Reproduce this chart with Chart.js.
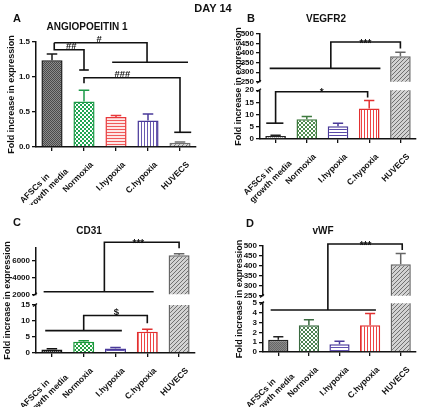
<!DOCTYPE html>
<html><head><meta charset="utf-8">
<script src="https://cdn.jsdelivr.net/npm/chart.js@4.4.1/dist/chart.umd.min.js"></script>
<style>
html,body{margin:0;padding:0;background:#fff;}
#root{position:relative;width:422px;height:407px;overflow:hidden;background:#fff;}
.pn{position:absolute;}
.pn canvas{display:block;}
#day{position:absolute;left:2px;width:422px;top:2px;text-align:center;font:bold 11px 'Liberation Sans',Arial,sans-serif;color:#111;}
</style></head><body>
<div id="root">
<div class="pn" style="left:0;top:0"><canvas id="cA" width="211" height="205"></canvas></div>
<div class="pn" style="left:211px;top:0"><canvas id="cB" width="211" height="205"></canvas></div>
<div class="pn" style="left:0;top:203px"><canvas id="cC" width="211" height="204"></canvas></div>
<div class="pn" style="left:211px;top:203px"><canvas id="cD" width="211" height="204"></canvas></div>
<div id="day">DAY 14</div>
</div>
<script>
// ---------- data ----------
const categories = [['AFSCs in       ','growth media'],'Normoxia','I.hypoxia','C.hypoxia','HUVECS'];
const yTitle = 'Fold increase in expression';

const angMean   = [1.24, 0.65, 0.43, 0.38, 0.06];
const angErrTop = [1.33, 0.81, 0.45, 0.47, 0.07];
const angTicks  = [0, 0.5, 1.0, 1.5];

const vegMean    = [1.2, 8.1, 5.2, 12.5, 384];
const vegErrTop  = [1.5, 9.2, 6.5, 15.8, 404];
const vegTicksLow = [0, 5, 10, 15, 20];
const vegTicksUp  = [250, 300, 350, 400, 450, 500];

const cdMean    = [1.1, 3.5, 1.4, 6.6, 6650];
const cdErrTop  = [1.3, 3.8, 1.7, 7.4, 6820];
const cdTicksLow = [0, 5, 10, 15];
const cdTicksUp  = [2000, 4000, 6000];

const vwfMean    = [1.25, 2.75, 0.8, 2.75, 408];
const vwfErrTop  = [1.55, 3.3, 1.1, 3.95, 463];
const vwfTicksLow = [0, 1, 2, 3, 4, 5];
const vwfTicksUp  = [250, 300, 350, 400, 450, 500];

// significance brackets: polylines of [category index, value, axis]
const angBrackets = [
  [[0.07,1.49,'l'],[2.97,1.49,'l'],[2.97,1.21,'l']],
  [[1.88,1.21,'l'],[4.25,1.21,'l']],
  [[0.07,1.49,'l'],[0.07,1.39,'l'],[1.0,1.39,'l'],[1.0,1.10,'l']],
  [[0.85,1.10,'l'],[1.15,1.10,'l']],
  [[1.0,0.91,'l'],[1.0,0.99,'l'],[4.0,0.99,'l'],[4.0,0.21,'l']],
  [[3.82,0.21,'l'],[4.35,0.21,'l']]
];
const angMarks = [['#',1.47,1.49,'l'],['##',0.6,1.39,'l'],['###',2.2,0.99,'l']];

const vegBrackets = [
  [[1.77,320,'u'],[1.77,458,'u'],[4.0,458,'u'],[4.0,424,'u']],
  [[-0.19,320,'u'],[3.36,320,'u']],
  [[0,6.5,'l'],[0,19.4,'l'],[2.95,19.4,'l'],[2.95,17,'l']],
  [[-0.3,6.5,'l'],[0.25,6.5,'l']]
];
const vegMarks = [['***',2.88,458,'u'],['*',1.48,19.4,'l']];

const cdBrackets = [
  [[1.65,2300,'u'],[1.65,8190,'u'],[4.0,8190,'u'],[4.0,7480,'u']],
  [[-0.26,2300,'u'],[3.2,2300,'u']],
  [[1.0,7.0,'l'],[1.0,11.7,'l'],[3.0,11.7,'l'],[3.0,9.3,'l']],
  [[-0.21,7.0,'l'],[2.2,7.0,'l']]
];
const cdMarks = [['***',2.72,8190,'u'],['$',2.03,11.7,'l']];

const vwfBrackets = [
  [[1.62,4.3,'l'],[1.62,510,'u'],[4.05,510,'u'],[4.05,480,'u']],
  [[-0.25,4.3,'l'],[3.19,4.3,'l']]
];
const vwfMarks = [['***',2.85,510,'u']];

// ---------- styling ----------
const FAM = "'Liberation Sans', Arial, sans-serif";
Chart.defaults.font.family = FAM;

function makePattern(ctx, f) {
  const [type, fg, bg, cell] = f;
  const k = cell || 1;
  const s = (type === 'checker' || type === 'diag') ? 2 * k : 3;
  const c = document.createElement('canvas');
  c.width = s; c.height = s;
  const g = c.getContext('2d');
  g.fillStyle = bg; g.fillRect(0, 0, s, s);
  g.fillStyle = fg;
  if (type === 'checker') { g.fillRect(0, 0, k, k); g.fillRect(k, k, k, k); }
  else if (type === 'hstripe') { g.fillRect(0, 0, s, 1); }
  else if (type === 'vstripe') { g.fillRect(0, 0, 1, s); }
  else if (type === 'diag') { for (let i = 0; i < s; i++) g.fillRect(i, s - 1 - i, 1, 1); }
  else { g.fillRect(0, 0, s, s); }
  return ctx.createPattern(c, 'repeat');
}

function makeChart(id, spec) {
  const canvas = document.getElementById(id);
  const ctx = canvas.getContext('2d');
  const fills = spec.fills.map(f => makePattern(ctx, f));
  const stacked = !!spec.up;
  const tickFont = {family: FAM, size: 8, weight: 'bold'};
  const yAxis = (min, max, ticks, weight, sw) => {
    const a = {
      type: 'linear', position: 'left', min: min, max: max, weight: weight,
      afterBuildTicks: s => { s.ticks = ticks.map(v => ({value: v})); },
      afterFit: s => { s.width = spec.yW; },
      ticks: {color: '#111', font: tickFont, padding: 2, autoSkip: false, callback: spec.fmt},
      grid: {drawOnChartArea: false, tickLength: 4, color: '#111', lineWidth: 1.3},
      border: {color: '#111', width: 1.5}
    };
    if (stacked) { a.stack = 's'; a.stackWeight = sw; }
    return a;
  };
  const scales = {
    x: {
      type: 'category', offset: true,
      grid: {offset: false, drawOnChartArea: false, tickLength: 4, color: '#111', lineWidth: 1.3},
      border: {color: '#111', width: 1.5},
      ticks: {autoSkip: false, maxRotation: 45, minRotation: 45, color: '#111', padding: 9, labelOffset: 8,
              font: {family: FAM, size: 8.5, weight: 'bold', lineHeight: 1.15}},
      afterFit: s => { s.height = spec.xH; }
    }
  };
  const ds = [];
  const base = {
    data: spec.mean, backgroundColor: fills, borderColor: spec.border, borderWidth: 1.5,
    borderSkipped: 'start', grouped: false, barPercentage: 0.66, categoryPercentage: 1, clip: 0
  };
  if (stacked) {
    scales.yUp = yAxis(spec.up.min, spec.up.max, spec.up.ticks, 2, spec.up.w);
    scales.yGap = {type: 'linear', position: 'left', stack: 's', stackWeight: spec.gapW, weight: 1,
      ticks: {display: false}, grid: {display: false}, border: {display: false},
      afterFit: s => { s.width = spec.yW; }};
    scales.yLow = yAxis(spec.low.min, spec.low.max, spec.low.ticks, 0, spec.low.w);
    ds.push(Object.assign({}, base, {yAxisID: 'yLow'}));
    ds.push(Object.assign({}, base, {yAxisID: 'yUp'}));
  } else {
    scales.yLow = yAxis(spec.low.min, spec.low.max, spec.low.ticks, 0, 1);
    ds.push(Object.assign({}, base, {yAxisID: 'yLow'}));
  }

  const decor = {
    id: 'decor_' + id,
    afterDatasetsDraw(chart) {
      const c = chart.ctx;
      const xs = chart.scales.x;
      const ax = k => (k === 'u' ? chart.scales.yUp : chart.scales.yLow);
      const meta = chart.getDatasetMeta(0);
      c.save();
      // error bars
      spec.mean.forEach((m, i) => {
        const sc = (stacked && m > spec.low.max) ? chart.scales.yUp : chart.scales.yLow;
        const x = xs.getPixelForValue(i);
        const w = meta.data[i].width;
        const y1 = sc.getPixelForValue(m), y2 = sc.getPixelForValue(spec.err[i]);
        c.strokeStyle = spec.border[i]; c.lineWidth = 1.5;
        c.beginPath();
        c.moveTo(x, y1); c.lineTo(x, y2);
        c.moveTo(x - w * 0.25, y2); c.lineTo(x + w * 0.25, y2);
        c.stroke();
      });
      // brackets
      c.strokeStyle = '#111'; c.lineWidth = 1.6; c.lineJoin = 'miter';
      spec.brackets.forEach(line => {
        c.beginPath();
        line.forEach((p, j) => {
          const x = xs.getPixelForValue(p[0]);
          const y = ax(p[2]).getPixelForValue(p[1]);
          if (j === 0) c.moveTo(x, y); else c.lineTo(x, y);
        });
        c.stroke();
      });
      c.fillStyle = '#111'; c.textAlign = 'center'; c.textBaseline = 'alphabetic';
      spec.marks.forEach(mk => {
        const x = xs.getPixelForValue(mk[1]);
        const y = ax(mk[3]).getPixelForValue(mk[2]);
        const star = mk[0].indexOf('*') >= 0;
        c.font = 'bold ' + (star ? 10 : 9.5) + 'px ' + FAM;
        c.fillText(mk[0], x, star ? y + 4.5 : y - 1);
      });
      // break marks
      if (stacked) {
        const xL = chart.scales.yLow.right;
        [chart.scales.yUp.bottom, chart.scales.yLow.top].forEach(y => {
          c.beginPath(); c.lineWidth = 1.3;
          c.moveTo(xL - 3, y + 1.5); c.lineTo(xL + 1, y - 1.5); c.stroke();
        });
      }
      // texts
      const ca = chart.chartArea;
      c.save();
      c.translate(spec.yTitleX, (ca.top + ca.bottom) / 2);
      c.rotate(-Math.PI / 2);
      c.textAlign = 'center'; c.textBaseline = 'middle';
      c.font = 'bold 9px ' + FAM;
      c.fillText(yTitle, 0, 0);
      c.restore();
      c.textAlign = 'center'; c.textBaseline = 'alphabetic';
      c.font = 'bold 10px ' + FAM;
      c.fillText(spec.title, spec.titleX, spec.titleY);
      c.textAlign = 'left';
      c.font = 'bold 11px ' + FAM;
      c.fillText(spec.letter, spec.letterX, spec.letterY);
      c.restore();
    }
  };

  return new Chart(ctx, {
    type: 'bar',
    data: {labels: categories, datasets: ds},
    options: {
      responsive: false, animation: false,
      layout: {padding: {left: 0, top: spec.padT, right: spec.padR, bottom: 0}},
      plugins: {legend: {display: false}, tooltip: {enabled: false}, title: {display: false}},
      scales: scales
    },
    plugins: [decor]
  });
}

const grayDiag = ['diag', '#707070', '#d2d2d2', 2];

makeChart('cA', {
  mean: angMean, err: angErrTop, brackets: angBrackets, marks: angMarks,
  low: {min: 0, max: 1.5, ticks: angTicks},
  fmt: v => Number(v).toFixed(1),
  border: ['#1a1a1a', '#1d9a48', '#e8383a', '#4a3a9a', '#707070'],
  fills: [['checker', '#4a4a4a', '#8c8c8c', 1], ['checker', '#1fa552', '#ffffff', 2],
          ['hstripe', '#ef5a5a', '#fde6e6'], ['vstripe', '#6a5ab0', '#ffffff'], grayDiag],
  yW: 36, padT: 42, padR: 15, xH: 58,
  yTitleX: 12, title: 'ANGIOPOEITIN 1', titleX: 87, titleY: 30, letter: 'A', letterX: 13, letterY: 22
});

makeChart('cB', {
  mean: vegMean, err: vegErrTop, brackets: vegBrackets, marks: vegMarks,
  low: {min: 0, max: 20, ticks: vegTicksLow, w: 49},
  up: {min: 250, max: 500, ticks: vegTicksUp, w: 48}, gapW: 8.6,
  fmt: v => String(v),
  border: ['#222222', '#3e7a3e', '#4a3a98', '#e23030', '#666666'],
  fills: [['checker', '#999999', '#eeeeee', 1], ['checker', '#4d8a4d', '#ffffff', 2],
          ['hstripe', '#5a4aa8', '#ffffff'], ['vstripe', '#ee4444', '#ffffff'], grayDiag],
  yW: 49, padT: 34, padR: 6, xH: 66,
  yTitleX: 28, title: 'VEGFR2', titleX: 115, titleY: 22, letter: 'B', letterX: 36, letterY: 21.5
});

makeChart('cC', {
  mean: cdMean, err: cdErrTop, brackets: cdBrackets, marks: cdMarks,
  low: {min: 0, max: 15, ticks: cdTicksLow, w: 48.3},
  up: {min: 2000, max: 7500, ticks: cdTicksUp, w: 46.6}, gapW: 10.7,
  fmt: v => String(v),
  border: ['#111111', '#18983a', '#4a3a9a', '#e03030', '#666666'],
  fills: [['checker', '#333333', '#999999', 1], ['checker', '#22a040', '#ffffff', 2],
          ['hstripe', '#6050b0', '#ffffff'], ['vstripe', '#ee4444', '#ffffff'], grayDiag],
  yW: 36, padT: 45, padR: 16, xH: 54,
  yTitleX: 8, title: 'CD31', titleX: 89, titleY: 31, letter: 'C', letterX: 13, letterY: 23
});

makeChart('cD', {
  mean: vwfMean, err: vwfErrTop, brackets: vwfBrackets, marks: vwfMarks,
  low: {min: 0, max: 5, ticks: vwfTicksLow, w: 49},
  up: {min: 250, max: 500, ticks: vwfTicksUp, w: 50}, gapW: 7.3,
  fmt: v => String(v),
  border: ['#222222', '#3a6a40', '#4a3a9a', '#e03030', '#666666'],
  fills: [['checker', '#666666', '#8a8a8a', 1], ['checker', '#4a8050', '#ffffff', 2],
          ['hstripe', '#6050b0', '#ffffff'], ['vstripe', '#ee4444', '#ffffff'], grayDiag],
  yW: 52, padT: 43, padR: 6, xH: 55,
  yTitleX: 29, title: 'vWF', titleX: 112, titleY: 31, letter: 'D', letterX: 35, letterY: 24
});
</script>
</body></html>
